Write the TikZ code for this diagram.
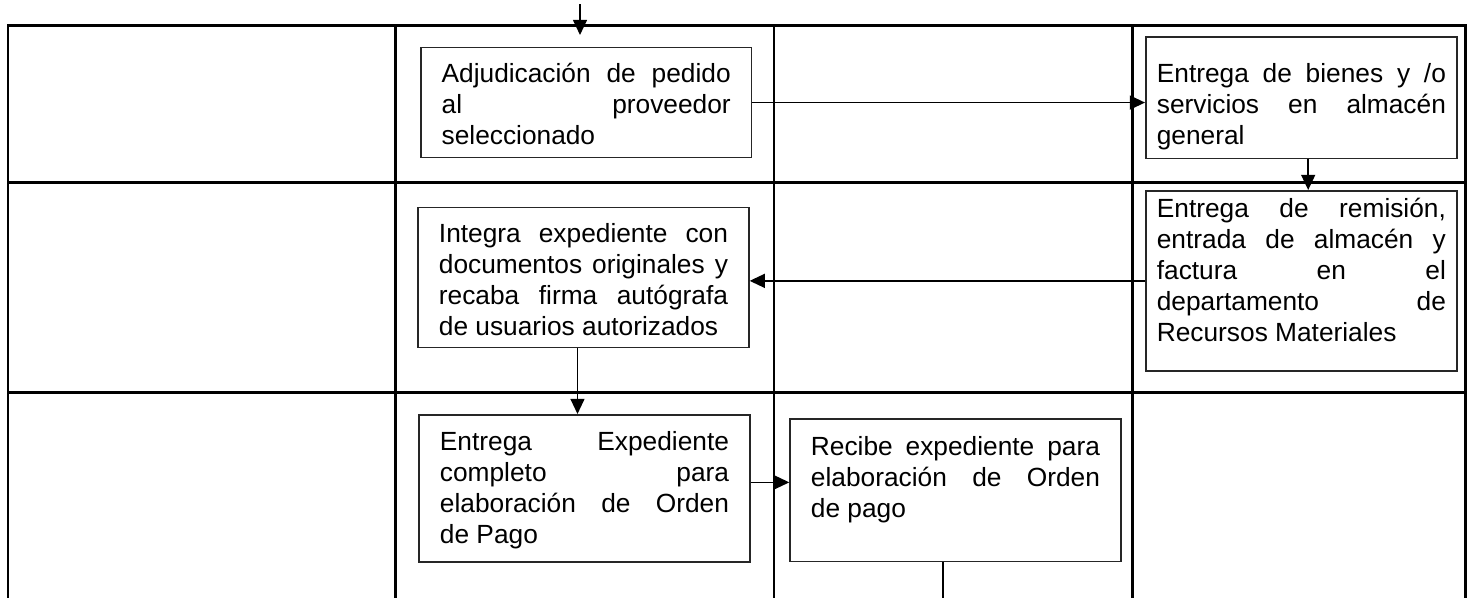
\documentclass[tikz,border=0pt]{standalone}
\usepackage{fontspec}
\setmainfont{Liberation Sans}
\usetikzlibrary{arrows.meta, positioning, calc}
\definecolor{mBox}{HTML}{262626}
\tolerance=10000
\hbadness=10000
\hyphenpenalty=10000
\tikzset{
  wbox/.style={draw=mBox, line width=1.2pt, anchor=north west,
               text width=7.225cm, align=justify, inner xsep=0.52cm,
               inner ysep=0pt, font=\fontsize{18.7}{22}\selectfont},
  nbox/.style={wbox, inner xsep=0.275cm},
  lane/.style={line width=1.8pt},
  flow/.style={line width=1.1pt, -{Triangle[length=0.38cm, width=0.35cm]}},
}
\begin{document}
\begin{tikzpicture}[x=0.025cm, y=-0.025cm]
    \useasboundingbox (0,0) rectangle (1474,598);
    \draw[lane] (8,598) -- (8,25.7) -- (1465.7,25.7) -- (1465.7,598);
    \draw[lane] (8,182.7) -- (1465.7,182.7);
    \draw[lane] (8,392.3) -- (1465.7,392.3);
    \foreach \cx in {395.7,774,1132.7}
      \draw[lane] (\cx,25.7) -- (\cx,598);
    \node[wbox, text height=0.875cm, text depth=1.875cm] (adj) at (420,46.7)
      {Adjudicación de pedido\linebreak al proveedor\linebreak seleccionado};
    \node[nbox, text height=1.1425cm, text depth=1.895cm] (bienes) at (1145,36)
      {Entrega de bienes y /o\linebreak servicios en almacén\linebreak general};
    \node[wbox, text height=0.875cm, text depth=2.625cm] (integra) at (417.3,206.7)
      {Integra expediente con\linebreak documentos originales y\linebreak
       recaba firma autógrafa\linebreak de usuarios autorizados};
    \node[nbox, text height=0.6675cm, text depth=3.8325cm] (remision) at (1145,190)
      {\leftskip=0.27cm Entrega de remisión,\linebreak entrada de almacén y\linebreak
       factura en el\linebreak departamento de\linebreak Recursos Materiales};
    \node[wbox, text height=0.9cm, text depth=2.775cm] (entrega) at (418.3,414)
      {Entrega Expediente\linebreak completo para\linebreak
       elaboración de Orden\linebreak de Pago};
    \node[wbox, text height=0.9cm, text depth=2.66cm] (recibe) at (789.3,418.3)
      {Recibe expediente para\linebreak elaboración de Orden\linebreak de pago};
    \coordinate (inicio) at (580,4);
    \coordinate (llegada) at (580,35);
    \coordinate (salida) at (943,598);
    \draw[flow] (inicio) -- (llegada);
    \draw[flow] (adj.east) -- (adj.east -| bienes.west);
    \draw[flow] ([xshift=0.17cm]bienes.south) -- ([xshift=0.17cm]remision.north);
    \draw[flow] (remision.west) -- (remision.west -| integra.east);
    \draw[flow] ([xshift=-0.15cm]integra.south) -- ([xshift=-0.15cm]integra.south |- entrega.north);
    \draw[flow] ([yshift=0.15cm]entrega.east) -- ([yshift=0.15cm]entrega.east -| recibe.west);
    \draw[line width=1.1pt] (recibe.south -| salida) -- (salida);
\end{tikzpicture}
\end{document}
